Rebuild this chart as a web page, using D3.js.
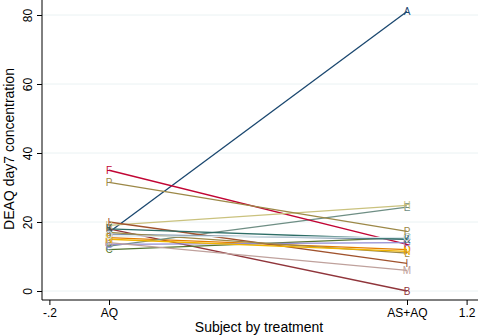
<!DOCTYPE html>
<html>
<head>
<meta charset="utf-8">
<script src="https://cdn.jsdelivr.net/npm/d3@7"></script>
<style>
  body { margin: 0; background: #fff; }
  svg { display: block; font-family: "Liberation Sans", Arial, sans-serif; }
</style>
</head>
<body>
<div id="graph"></div>
<script>
// subjects, with DEAQ day7 value under AQ and under AS+AQ
var subjects = ['A','B','C','D','E','F','G','H','I','J','K','L','M','N','O','P']
var aqValues   = [17, 18, 12, 15.5, 13, 35, 13.5, 19, 20, 16.5, 18, 17, 14, 15, 16, 31.5]
var asaqValues = [81, 0, 15.5, 12, 24.3, 13.5, 14, 24.8, 8, 15, 15, 11, 6, 11.5, 15.5, 17.3]
var colors = ['#1a476f','#90353b','#55752f','#e37e00','#6e8e84','#c10534','#938dd2','#cac27e',
              '#a0522d','#7b92a8','#2d6d66','#9c8847','#bfa19c','#f0b400','#d9e6eb','#9c8847']

var xTicks = [-0.2, 0, 1, 1.2]
var xTickLabels = ['-.2', 'AQ', 'AS+AQ', '1.2']
var yTicks = [0, 20, 40, 60, 80]

var width = 478, height = 336
var margin = {left: 42, right: 0, top: 0, bottom: 36}

var x = d3.scaleLinear().domain([0, 1]).range([109, 407])
var y = d3.scaleLinear().domain([0, 80]).range([291, 15])

var svg = d3.select('#graph').append('svg')
  .attr('width', width).attr('height', height)

// grid
svg.append('g').selectAll('line').data(yTicks).join('line')
  .attr('x1', margin.left).attr('x2', width)
  .attr('y1', d => y(d)).attr('y2', d => y(d))
  .attr('stroke', '#eaf2f3').attr('stroke-width', 1)

// y axis
var yAxis = svg.append('g')
  .attr('transform', 'translate(' + margin.left + ',0)')
  .call(d3.axisLeft(y).tickValues(yTicks).tickSize(5).tickPadding(4).tickFormat(d3.format('d')))
yAxis.select('.domain').attr('d', 'M0,0V' + (height - margin.bottom))
yAxis.selectAll('text')
  .attr('transform', 'rotate(-90)')
  .attr('x', 0).attr('y', -10).attr('dy', 0)
  .style('text-anchor', 'middle')
  .attr('font-size', 12).attr('fill', '#000')
yAxis.selectAll('line, path').attr('stroke', '#000')

// x axis
var xAxis = svg.append('g')
  .attr('transform', 'translate(0,' + (height - margin.bottom) + ')')
  .call(d3.axisBottom(x).tickValues(xTicks).tickSize(5).tickPadding(3)
    .tickFormat((d, i) => xTickLabels[i]))
xAxis.select('.domain').attr('d', 'M' + margin.left + ',0H' + width)
xAxis.selectAll('text').attr('font-size', 12).attr('fill', '#000')
xAxis.selectAll('line, path').attr('stroke', '#000')

// titles
svg.append('text')
  .attr('x', 259).attr('y', 332)
  .attr('text-anchor', 'middle').attr('font-size', 14)
  .text('Subject by treatment')
svg.append('text')
  .attr('transform', 'translate(14,149) rotate(-90)')
  .attr('text-anchor', 'middle').attr('font-size', 14)
  .text('DEAQ day7 concentration')

var rows = subjects.map((s, i) => ({s: s, a: aqValues[i], b: asaqValues[i], c: colors[i]}))

svg.append('g').selectAll('line').data(rows).join('line')
  .attr('x1', x(0)).attr('x2', x(1))
  .attr('y1', d => y(d.a)).attr('y2', d => y(d.b))
  .attr('stroke', d => d.c).attr('stroke-width', 1.3)

var labs = svg.append('g')
labs.selectAll('text.l').data(rows).join('text')
  .attr('x', x(0)).attr('y', d => y(d.a)).attr('dy', '0.35em')
  .attr('text-anchor', 'middle').attr('font-size', 10)
  .attr('fill', d => d.c).text(d => d.s)
labs.selectAll('text.r').data(rows).join('text')
  .attr('x', x(1)).attr('y', d => y(d.b)).attr('dy', '0.35em')
  .attr('text-anchor', 'middle').attr('font-size', 10)
  .attr('fill', d => d.c).text(d => d.s)
</script>
</body>
</html>
